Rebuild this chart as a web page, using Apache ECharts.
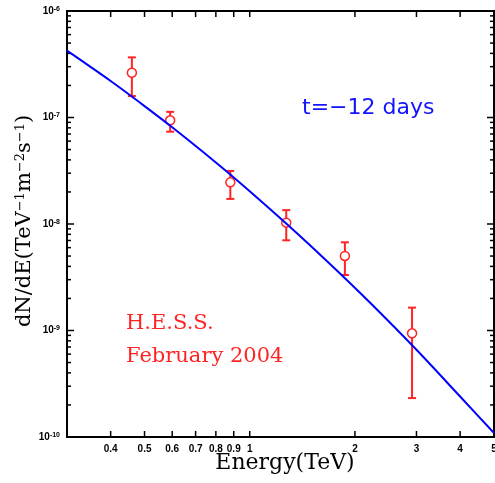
<!DOCTYPE html>
<html>
<head>
<meta charset="utf-8">
<script src="https://cdn.jsdelivr.net/npm/echarts@6/dist/echarts.min.js"></script>
<style>
  html, body { margin: 0; padding: 0; background: #fff; }
  #chart { width: 495px; height: 483px; }
</style>
</head>
<body>
<div id="chart"></div>
<script>
// H.E.S.S. points (TeV, dN/dE) with error bar ends
var energy = [0.46, 0.592, 0.88, 1.272, 1.872, 2.914];
var flux = [2.63e-7, 9.41e-8, 2.46e-8, 1.03e-8, 5.01e-9, 9.41e-10];
var fluxLow = [1.59e-7, 7.36e-8, 1.72e-8, 7.03e-9, 3.32e-9, 2.32e-10];
var fluxHigh = [3.67e-7, 1.13e-7, 3.15e-8, 1.35e-8, 6.73e-9, 1.64e-9];

// model curve
var fitEnergy = [0.3, 0.4, 0.5, 0.6, 0.8, 1, 1.3, 1.7, 2.2, 3, 4, 5];
var fitFlux = [4.24e-7, 2.20e-7, 1.28e-7, 8.09e-8, 3.78e-8, 2.03e-8, 9.46e-9, 4.19e-9, 1.85e-9, 6.59e-10, 2.40e-10, 1.09e-10];

// axis ticks
var xTicks = [0.4, 0.5, 0.6, 0.7, 0.8, 0.9, 1, 2, 3, 4, 5];
var xTickLabels = ['0.4', '0.5', '0.6', '0.7', '0.8', '0.9', '1', '2', '3', '4', '5'];
var yDecades = [1e-10, 1e-9, 1e-8, 1e-7];
var yMinorSteps = [2, 3, 4, 5, 6, 7, 8, 9];

var xMin = 0.3, xMax = 5, yMin = 1e-10, yMax = 1e-6;

var chart = echarts.init(document.getElementById('chart'));

var pointData = [], barData = [], fitData = [], xTickData = [], yTickData = [];
for (var i = 0; i < energy.length; i++) {
  pointData.push([energy[i], flux[i]]);
  barData.push([energy[i], fluxLow[i], fluxHigh[i]]);
}
for (var i = 0; i < fitEnergy.length; i++) fitData.push([fitEnergy[i], fitFlux[i]]);
for (var i = 0; i < xTicks.length; i++) xTickData.push([xTicks[i], yMin, i]);
for (var i = 0; i < yDecades.length; i++) {
  yTickData.push([xMin, yDecades[i], 1]);
  for (var j = 0; j < yMinorSteps.length; j++) yTickData.push([xMin, yDecades[i] * yMinorSteps[j], 0]);
}
yTickData.push([xMin, yMax, 1]);

var red = '#ff2424';
var tickStyle = { stroke: '#000', lineWidth: 1.5 };

var option = {
  animation: false,
  grid: {
    left: 67, right: 1, top: 11, bottom: 46,
    show: true, borderColor: '#000', borderWidth: 2
  },
  xAxis: {
    type: 'log', logBase: 10, min: xMin, max: xMax,
    axisLine: { lineStyle: { color: '#000', width: 2 } },
    axisTick: { show: false },
    axisLabel: { show: false },
    splitLine: { show: false }
  },
  yAxis: {
    type: 'log', logBase: 10, min: yMin, max: yMax,
    axisLine: { lineStyle: { color: '#000', width: 2 } },
    axisTick: { show: false },
    splitLine: { show: false },
    axisLabel: {
      margin: 7,
      formatter: function (v) {
        var e = Math.round(Math.log(v) / Math.LN10);
        return '{b|10}{s|' + e + '}';
      },
      rich: {
        b: { fontSize: 10, fontWeight: 'bold', fontFamily: 'Liberation Sans', color: '#000' },
        s: { fontSize: 7, fontWeight: 'bold', fontFamily: 'Liberation Sans', color: '#000', verticalAlign: 'top', padding: [0, 0, 4, 0] }
      }
    }
  },
  graphic: [
    {
      type: 'text', x: 285, y: 463,
      style: { text: 'Energy(TeV)', font: '22px "DejaVu Serif"', fill: '#000', align: 'center', verticalAlign: 'middle' }
    },
    {
      type: 'text', x: 25, y: 221, rotation: Math.PI / 2,
      style: {
        text: '{m|dN/dE(TeV}{s|\u22121}{m|m}{s|\u22122}{m|s}{s|\u22121}{m|)}',
        align: 'center', verticalAlign: 'middle',
        rich: {
          m: { fontSize: 21, fontFamily: 'DejaVu Serif', color: '#000' },
          s: { fontSize: 13, fontFamily: 'DejaVu Serif', color: '#000', verticalAlign: 'top' }
        }
      }
    },
    {
      type: 'text', x: 302, y: 108,
      style: { text: 't=\u221212 days', font: '22px "DejaVu Sans"', fill: '#1414ff', align: 'left', verticalAlign: 'middle' }
    },
    {
      type: 'text', x: 126, y: 324,
      style: { text: 'H.E.S.S.', font: '21px "DejaVu Serif"', fill: red, align: 'left', verticalAlign: 'middle' }
    },
    {
      type: 'text', x: 126, y: 357,
      style: { text: 'February 2004', font: '21px "DejaVu Serif"', fill: red, align: 'left', verticalAlign: 'middle' }
    }
  ],
  series: [
    {
      // x ticks (bottom + top) and their labels
      type: 'custom', silent: true, clip: false,
      data: xTickData,
      encode: { x: 0, y: 1 },
      renderItem: function (params, api) {
        var b = api.coord([api.value(0), yMin]);
        var t = api.coord([api.value(0), yMax]);
        return {
          type: 'group',
          children: [
            { type: 'line', shape: { x1: b[0], y1: b[1], x2: b[0], y2: b[1] - 6 }, style: tickStyle },
            { type: 'line', shape: { x1: t[0], y1: t[1], x2: t[0], y2: t[1] + 6 }, style: tickStyle },
            { type: 'text', style: { text: xTickLabels[api.value(2)], x: b[0], y: b[1] + 12, align: 'center', verticalAlign: 'middle', font: 'bold 10px "Liberation Sans"', fill: '#000' } }
          ]
        };
      }
    },
    {
      // y ticks on left and right edges
      type: 'custom', silent: true, clip: false,
      data: yTickData,
      encode: { x: 0, y: 1 },
      renderItem: function (params, api) {
        var l = api.coord([xMin, api.value(1)]);
        var r = api.coord([xMax, api.value(1)]);
        var len = api.value(2) ? 7 : 4;
        return {
          type: 'group',
          children: [
            { type: 'line', shape: { x1: l[0], y1: l[1], x2: l[0] + len, y2: l[1] }, style: tickStyle },
            { type: 'line', shape: { x1: r[0], y1: r[1], x2: r[0] - len, y2: r[1] }, style: tickStyle }
          ]
        };
      }
    },
    {
      // error bars
      type: 'custom', silent: true,
      data: barData,
      encode: { x: 0, y: [1, 2] },
      z: 3,
      renderItem: function (params, api) {
        var lo = api.coord([api.value(0), api.value(1)]);
        var hi = api.coord([api.value(0), api.value(2)]);
        var st = { stroke: red, lineWidth: 2 };
        return {
          type: 'group',
          children: [
            { type: 'line', shape: { x1: lo[0], y1: lo[1], x2: hi[0], y2: hi[1] }, style: st },
            { type: 'line', shape: { x1: lo[0] - 4, y1: lo[1], x2: lo[0] + 4, y2: lo[1] }, style: st },
            { type: 'line', shape: { x1: hi[0] - 4, y1: hi[1], x2: hi[0] + 4, y2: hi[1] }, style: st }
          ]
        };
      }
    },
    {
      type: 'scatter',
      silent: true,
      data: pointData,
      symbol: 'circle',
      symbolSize: 9,
      itemStyle: { color: '#fff', borderColor: red, borderWidth: 1.5, opacity: 1 },
      z: 4
    },
    {
      type: 'line',
      silent: true,
      data: fitData,
      symbol: 'none',
      smooth: 0.3,
      lineStyle: { color: '#0000ff', width: 2 },
      z: 5
    }
  ]
};

chart.setOption(option);
</script>
</body>
</html>
